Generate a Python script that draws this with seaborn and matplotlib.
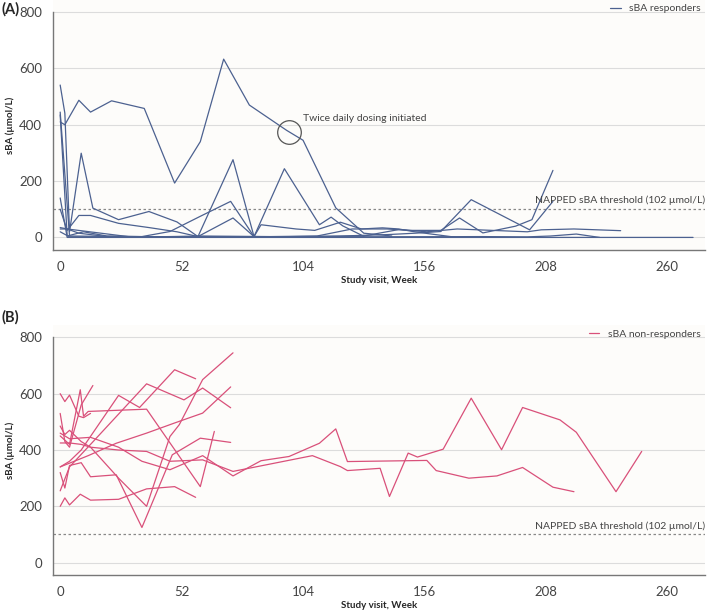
import numpy as np
import pandas as pd
import matplotlib
matplotlib.use("Agg")
import matplotlib.pyplot as plt
import seaborn as sns
from matplotlib.lines import Line2D

# sBA responders (week, sBA umol/L), one list pair per patient
r1_wk = [0, 2, 8, 13, 22, 36, 49, 60, 70, 81, 97, 104, 118, 130, 142]
r1_val = [410, 400, 487, 445, 485, 458, 193, 340, 633, 470, 380, 345, 105, 15, 5]
r2_wk = [0, 2, 4, 9, 14, 25, 38, 50, 59, 74, 83, 96, 111, 116, 121, 130]
r2_val = [541, 441, 20, 299, 104, 63, 92, 55, 3, 276, 3, 244, 45, 72, 41, 4]
r3_wk = [0, 3, 8, 13, 25, 38, 50, 59, 74, 83, 86, 101, 109, 120, 129, 138, 145, 151, 158, 169]
r3_val = [100, 25, 78, 78, 50, 35, 20, 3, 69, 3, 45, 30, 25, 54, 30, 34, 30, 21, 13, 1]
r4_wk = [0, 3, 10, 20, 35, 47, 60, 73, 83, 100, 120, 140, 160]
r4_val = [435, 5, 20, 5, 3, 21, 75, 128, 3, 2, 1, 1, 0]
r5_wk = [0, 3, 20, 50, 100, 150, 200, 240, 271]
r5_val = [140, 0, 0, 0, 0, 0, 0, 0, 0]
r6_wk = [0, 3, 30, 60, 90, 120, 140, 152, 163, 176, 201, 211]
r6_val = [35, 30, 2, 3, 2, 5, 10, 15, 21, 134, 27, 128]
r7_wk = [0, 3, 8, 20, 40, 60, 90, 110, 125, 140, 150, 163, 171, 181, 195, 202, 211]
r7_val = [30, 30, 15, 3, 2, 5, 3, 5, 30, 30, 25, 25, 69, 16, 40, 63, 238]
r8_wk = [0, 4, 30, 60, 100, 130, 145, 157, 170, 185, 200, 206, 220, 240]
r8_val = [445, 5, 3, 2, 2, 5, 28, 20, 30, 25, 20, 27, 30, 24]
r9_wk = [0, 4, 40, 90, 140, 180, 200, 210, 221, 231]
r9_val = [20, 2, 1, 1, 2, 3, 2, 5, 12, 0]

# sBA non-responders
n1_wk = [0, 2, 4, 8.6, 13, 25, 37, 49, 58]
n1_val = [200, 230, 205, 243, 222, 225, 262, 270, 232]
n2_wk = [0, 2, 4, 9, 13, 24, 35, 48, 60, 73]
n2_val = [320, 265, 345, 355, 305, 312, 125, 383, 442, 427]
n3_wk = [0, 2, 4, 9, 13, 25, 37, 47, 51, 61, 74]
n3_val = [485, 455, 470, 430, 410, 300, 200, 448, 490, 650, 745]
n4_wk = [0, 4, 8.6, 10, 12, 37, 60, 66]
n4_val = [450, 420, 614, 520, 537, 545, 270, 466]
n5_wk = [0, 4, 9, 25, 34, 49, 58]
n5_val = [340, 360, 400, 594, 551, 685, 653]
n6_wk = [0, 4, 13, 37, 53, 61, 73]
n6_val = [255, 340, 420, 635, 578, 620, 550]
n7_wk = [0, 12, 24, 37, 49, 61, 73]
n7_val = [340, 380, 424, 460, 496, 531, 624]
n8_wk = [0, 2, 4, 9, 14]
n8_val = [530, 430, 410, 560, 629]
n9_wk = [0, 2, 4, 8, 10, 13]
n9_val = [600, 572, 595, 520, 515, 530]
n10_wk = [0, 4, 13, 25, 35, 47, 61, 74, 86, 98, 111, 118, 123, 157, 161, 175, 187, 198, 211, 220]
n10_val = [460, 440, 445, 410, 360, 330, 380, 308, 362, 377, 424, 475, 359, 363, 327, 300, 308, 338, 268, 252]
n11_wk = [0, 4, 9, 13, 25, 37, 47, 61, 74, 108, 120, 123, 137, 141, 149, 153, 164, 176, 189, 198, 214, 221, 238, 249]
n11_val = [425, 425, 420, 410, 400, 395, 360, 365, 324, 380, 341, 327, 335, 235, 389, 375, 403, 584, 401, 551, 507, 463, 252, 395]

threshold = 102
dose_week, dose_value = 98, 374
x_ticks = [0, 52, 104, 156, 208, 260]
y_ticks = [0, 200, 400, 600, 800]

resp = [(r1_wk, r1_val), (r2_wk, r2_val), (r3_wk, r3_val), (r4_wk, r4_val), (r5_wk, r5_val),
        (r6_wk, r6_val), (r7_wk, r7_val), (r8_wk, r8_val), (r9_wk, r9_val)]
nonresp = [(n1_wk, n1_val), (n2_wk, n2_val), (n3_wk, n3_val), (n4_wk, n4_val), (n5_wk, n5_val),
           (n6_wk, n6_val), (n7_wk, n7_val), (n8_wk, n8_val), (n9_wk, n9_val), (n10_wk, n10_val),
           (n11_wk, n11_val)]


def to_long(groups):
    rows = []
    for pid, (wk, val) in enumerate(groups):
        for w, v in zip(wk, val):
            rows.append({"pid": pid, "week": w, "sba": v})
    return pd.DataFrame(rows)


df_r = to_long(resp)
df_n = to_long(nonresp)

sns.set_style("white")
plt.rcParams["font.family"] = ["Lato", "DejaVu Sans"]

blue = "#4c6190"
pink = "#d9507a"
grey = "#444444"

fig = plt.figure(figsize=(7.09, 6.16), dpi=100)
ax_a = fig.add_axes([0.075, 0.594, 0.919, 0.406])
ax_b = fig.add_axes([0.075, 0.066, 0.919, 0.406])


def style(ax, df, color, legend_label):
    ax.set_facecolor("#fdfcfa")
    for y in y_ticks:
        ax.axhline(y, color="#dcdcdc", lw=0.8, zorder=0)
    sns.lineplot(data=df, x="week", y="sba", units="pid", estimator=None,
                 color=color, lw=0.9, sort=False, ax=ax, legend=False)
    ax.axhline(threshold, color="#888888", lw=0.9, ls=(0, (2, 2)), zorder=1)
    ax.text(276, threshold + 12, "NAPPED sBA threshold (102 \u00b5mol/L)", ha="right",
            va="bottom", fontsize=7.5, color=grey)
    ax.set_xlim(-3, 276)
    ax.set_ylim(-45, 843)
    ax.set_xticks(x_ticks)
    ax.set_yticks(y_ticks)
    ax.tick_params(axis="both", direction="out", length=4, width=0.8, color="#777777",
                   labelsize=9.5, labelcolor=grey, pad=4)
    for s in ["top", "right"]:
        ax.spines[s].set_visible(False)
    for s in ["left", "bottom"]:
        ax.spines[s].set_color("#777777")
        ax.spines[s].set_linewidth(1.0)
    ax.spines["left"].set_bounds(-45, 800)
    ax.set_xlabel("Study visit, Week", fontsize=7, fontweight="bold", labelpad=2)
    ax.set_ylabel("sBA (\u00b5mol/L)", fontsize=7, fontweight="bold", labelpad=3)
    handle = Line2D([], [], color=color, lw=0.9)
    ax.legend([handle], [legend_label], loc="upper right", frameon=False, fontsize=7.5,
              handlelength=1.0, borderaxespad=0.0, labelcolor=grey)


style(ax_a, df_r, blue, "sBA responders")
style(ax_b, df_n, pink, "sBA non-responders")

ax_a.plot(dose_week, dose_value, marker="o", ms=17, mfc="none", mec="#555555", mew=0.9)
ax_a.text(104, 423, "Twice daily dosing initiated", fontsize=7.5, color=grey, va="center")

fig.text(0.002, 0.985, "(A)", fontsize=10.5, fontweight="bold", va="center")
fig.text(0.002, 0.485, "(B)", fontsize=10.5, fontweight="bold", va="center")

fig.savefig("out.png", dpi=100)
